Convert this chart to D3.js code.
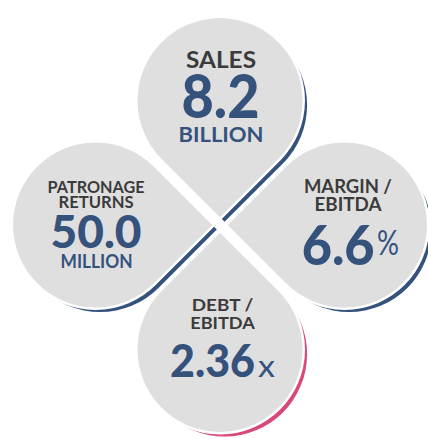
<!DOCTYPE html>
<html>
<head>
<meta charset="utf-8">
<title>Key figures</title>
<script src="https://cdn.jsdelivr.net/npm/d3@7"></script>
<style>
    body { margin: 0; background: #fff; }
    svg { display: block; }
    text { font-family: Lato, "Noto Sans", sans-serif; }
</style>
</head>
<body>
<svg width="428" height="438"></svg>
<script>

    // the figures
    var positions  = ["top", "left", "right", "bottom"];
    var labelLines = [["SALES"], ["PATRONAGE", "RETURNS"], ["MARGIN /", "EBITDA"], ["DEBT /", "EBITDA"]];
    var values     = [8.2, 50.0, 6.6, 2.36];
    var decimals   = [1, 1, 1, 2];
    var units      = ["BILLION", "MILLION", "%", "x"];

    // styles
    var accents = ["#35527d", "#35527d", "#35527d", "#d9477b"];
    var grey = "#dfdfdf", navy = "#35527d", ink = "#3b3b3b";

    var svg = d3.select("svg"),
        width = +svg.attr("width"),
        height = +svg.attr("height");

    var cx0 = 220, cy0 = 225,   // where the white X crosses
        r = 82.5,               // petal radius
        gap = 11,               // white gap between petals
        shift = 6.5,            // shadow offset
        rim = 2.5;              // white rim round each petal

    var dist = gap / Math.SQRT2 + r * Math.SQRT2;

    var angle = d3.scaleOrdinal()
        .domain(["right", "bottom", "left", "top"])
        .range([0, 90, 180, 270]);

    // teardrop: circle at the origin, sharp tip pointing down
    var k = r / Math.SQRT2;
    var p = d3.path();
    p.moveTo(0, r * Math.SQRT2);
    p.lineTo(k, k);
    p.arc(0, 0, r, Math.PI / 4, 3 * Math.PI / 4, true);
    p.closePath();
    var petalD = p.toString();

    // text placement inside each petal, relative to the circle centre
    var textLayout = {
        top: {
            label: { size: 23, y: [-32.2], w: [70], x: 1 },
            value: { size: 60, y: 17.6, x0: -38.5, w: 78 },
            unit:  { inline: false, size: 21.8, y: 41.2, w: 85, x: 1, weight: 700 }
        },
        left: {
            label: { size: 16.2, y: [-31.7, -16.7], w: [97, 75], x: 0.5 },
            value: { size: 46, y: 23.3, x0: -45, w: 91 },
            unit:  { inline: false, size: 18.5, y: 43.3, w: 72, x: 1, weight: 700 }
        },
        right: {
            label: { size: 18.5, y: [-31.7, -14.3], w: [88, 67], x: 3.5 },
            value: { size: 55, y: 40, x0: -42.8, w: 73 },
            unit:  { inline: true, size: 34, y: 30, w: 22, x: 32.5, weight: 400 }
        },
        bottom: {
            label: { size: 17.6, y: [-38.5, -20.2], w: [61.5, 64.5], x: 2.5 },
            value: { size: 46.5, y: 27.2, x0: -50, w: 85 },
            unit:  { inline: true, size: 31, y: 27.2, w: 17, x: 38, weight: 400 }
        }
    };

    var petals = positions.map(function(pos, i) {
        var a = angle(pos) * Math.PI / 180;
        return {
            pos: pos,
            rot: angle(pos) + 90,
            x: cx0 + dist * Math.cos(a),
            y: cy0 + dist * Math.sin(a),
            lines: labelLines[i],
            value: values[i],
            text: d3.format("." + decimals[i] + "f")(values[i]),
            unit: units[i],
            accent: accents[i],
            layout: textLayout[pos]
        };
    });

    // shadows first, so no petal rim can be hidden under another shadow
    svg.append("g")
        .attr("class", "shadows")
        .selectAll("path")
        .data(petals)
        .enter().append("path")
            .attr("d", petalD)
            .attr("fill", function(d) { return d.accent; })
            .attr("transform", function(d) {
                return "translate(" + (d.x + shift / Math.SQRT2) + "," + (d.y + shift / Math.SQRT2) + ") rotate(" + d.rot + ")";
            });

    svg.append("g")
        .attr("class", "petals")
        .selectAll("path")
        .data(petals)
        .enter().append("path")
            .attr("d", petalD)
            .attr("fill", grey)
            .attr("stroke", "#fff")
            .attr("stroke-width", rim * 2)
            .attr("paint-order", "stroke")
            .attr("transform", function(d) {
                return "translate(" + d.x + "," + d.y + ") rotate(" + d.rot + ")";
            });

    var txt = svg.append("g")
        .attr("class", "figures")
        .selectAll("g")
        .data(petals)
        .enter().append("g")
            .attr("transform", function(d) { return "translate(" + d.x + "," + d.y + ")"; });

    txt.each(function(d) {
        var g = d3.select(this), L = d.layout;

        d.lines.forEach(function(line, j) {
            g.append("text")
                .attr("x", L.label.x)
                .attr("y", L.label.y[j])
                .attr("text-anchor", "middle")
                .attr("font-size", L.label.size)
                .attr("font-weight", 700)
                .attr("fill", ink)
                .attr("textLength", L.label.w[j])
                .attr("lengthAdjust", "spacingAndGlyphs")
                .text(line);
        });

        g.append("text")
            .attr("x", L.value.x0)
            .attr("y", L.value.y)
            .attr("font-size", L.value.size)
            .attr("font-weight", 900)
            .attr("fill", navy)
            .attr("textLength", L.value.w)
            .attr("lengthAdjust", "spacingAndGlyphs")
            .text(d.text);

        g.append("text")
            .attr("x", L.unit.x)
            .attr("y", L.unit.y)
            .attr("text-anchor", L.unit.inline ? "start" : "middle")
            .attr("font-size", L.unit.size)
            .attr("font-weight", L.unit.weight)
            .attr("fill", navy)
            .attr("textLength", L.unit.w)
            .attr("lengthAdjust", "spacingAndGlyphs")
            .text(d.unit);
    });

</script>
</body>
</html>
